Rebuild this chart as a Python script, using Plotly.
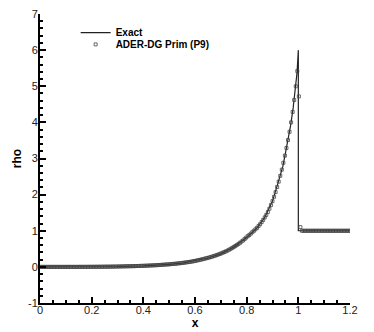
import numpy as np
import plotly.graph_objects as go

# exact solution
x_exact = [0.0, 0.2, 0.3, 0.4, 0.45, 0.5, 0.55, 0.6, 0.65, 0.7, 0.75, 0.8, 0.84,
           0.87, 0.9, 0.92, 0.94, 0.95, 0.96, 0.97, 0.98, 0.99, 0.995, 1.0, 1.0, 1.2]
rho_exact = [0.0, 0.002, 0.010, 0.030, 0.046, 0.067, 0.103, 0.165, 0.245, 0.36, 0.55, 0.81, 1.08,
             1.37, 1.82, 2.29, 2.78, 3.15, 3.51, 3.91, 4.40, 5.0, 5.38, 6.0, 1.0, 1.0]

# ADER-DG Prim (P9) samples, uniform spacing 0.006 on [0, 1.2]
x_num = np.linspace(0.0, 1.2, 201)
rho_num = [
    0, 0, 0, 0, 0, 0, 0, 0, 0, 0,
    0, 0, 0, 0, 0, 0, 0, 0, 0, 0,
    0, 0, 0, 0, 0, 0.001, 0.001, 0.001, 0.001, 0.001,
    0.001, 0.001, 0.002, 0.002, 0.002, 0.003, 0.003, 0.003, 0.004, 0.004,
    0.004, 0.005, 0.005, 0.006, 0.006, 0.007, 0.007, 0.008, 0.009, 0.009,
    0.010, 0.011, 0.012, 0.013, 0.014, 0.015, 0.016, 0.017, 0.018, 0.019,
    0.020, 0.021, 0.023, 0.024, 0.026, 0.027, 0.029, 0.030, 0.032, 0.034,
    0.036, 0.038, 0.040, 0.042, 0.044, 0.046, 0.049, 0.052, 0.055, 0.058,
    0.061, 0.064, 0.067, 0.070, 0.074, 0.078, 0.082, 0.086, 0.090, 0.095,
    0.100, 0.105, 0.110, 0.116, 0.122, 0.128, 0.134, 0.141, 0.148, 0.156,
    0.165, 0.174, 0.183, 0.193, 0.203, 0.213, 0.224, 0.235, 0.246, 0.258,
    0.270, 0.283, 0.297, 0.311, 0.326, 0.342, 0.358, 0.375, 0.393, 0.411,
    0.430, 0.452, 0.475, 0.499, 0.524, 0.550, 0.577, 0.605, 0.634, 0.665,
    0.70, 0.73, 0.77, 0.81, 0.85, 0.88, 0.92, 0.96, 1.00, 1.04,
    1.08, 1.13, 1.18, 1.24, 1.30, 1.37, 1.44, 1.52, 1.61, 1.71,
    1.82, 1.94, 2.07, 2.21, 2.36, 2.52, 2.69, 2.88, 3.08, 3.29,
    3.51, 3.74, 4.00, 4.29, 4.62, 5.00, 5.42, 4.72, 1.10, 1.0,
    1.0, 1.0, 1.0, 1.0, 1.0, 1.0, 1.0, 1.0, 1.0, 1.0,
    1.0, 1.0, 1.0, 1.0, 1.0, 1.0, 1.0, 1.0, 1.0, 1.0,
    1.0, 1.0, 1.0, 1.0, 1.0, 1.0, 1.0, 1.0, 1.0, 1.0,
    1.0,
]

y_ticks = [-1, 0, 1, 2, 3, 4, 5, 6, 7]
y_labels = ["-1", "0", "1", "2", "3", "4", "5", "6", "7"]
x_ticks = [0, 0.2, 0.4, 0.6, 0.8, 1.0, 1.2]
x_labels = ["0", "0.2", "0.4", "0.6", "0.8", "1", "1.2"]

font = "Liberation Sans, Arial, sans-serif"

fig = go.Figure()
fig.add_trace(go.Scatter(x=x_exact, y=rho_exact, mode="lines", name="<b>Exact</b>",
                         line=dict(color="#222222", width=1.2), legend="legend"))
fig.add_trace(go.Scatter(x=x_num, y=rho_num, mode="markers", name="<b>ADER-DG Prim (P9)</b>",
                         marker=dict(symbol="square-open", size=3, color="#444444",
                                     line=dict(width=0.8, color="#444444")),
                         legend="legend2"))

axis = dict(showline=True, linecolor="black", linewidth=2, mirror=False,
            ticks="inside", ticklen=6, tickwidth=1.5, tickcolor="black",
            showgrid=False, zeroline=False, automargin=False,
            ticklabeloverflow="allow",
            tickfont=dict(family=font, size=11, color="#222222"))

leg = dict(xanchor="left", yanchor="top", bgcolor="rgba(0,0,0,0)",
           font=dict(family=font, size=10, color="black"), itemwidth=30)

# page body has an 8px margin, so the figure is shrunk and shifted by that
fig.update_layout(
    width=366, height=324,
    margin=dict(l=31.5, r=24, t=6, b=28.5),
    paper_bgcolor="white", plot_bgcolor="white",
    font=dict(family=font),
    xaxis=dict(range=[0, 1.2], tickvals=x_ticks, ticktext=x_labels,
               ticklabelstandoff=-4,
               minor=dict(dtick=0.05, ticks="inside", ticklen=3, tickcolor="black"),
               title=dict(text="<b>x</b>", font=dict(size=12, color="black"), standoff=0),
               **axis),
    yaxis=dict(range=[-1, 7], tickvals=y_ticks, ticktext=y_labels,
               ticklabelstandoff=-2,
               minor=dict(dtick=0.2, ticks="inside", ticklen=3, tickcolor="black"),
               title=dict(text="<b>rho</b>", font=dict(size=12, color="black"), standoff=4),
               **axis),
    legend=dict(x=0.115, y=0.986, **leg),
    legend2=dict(x=0.115, y=0.945, **leg),
    showlegend=True,
)

fig.write_html("out.html")
